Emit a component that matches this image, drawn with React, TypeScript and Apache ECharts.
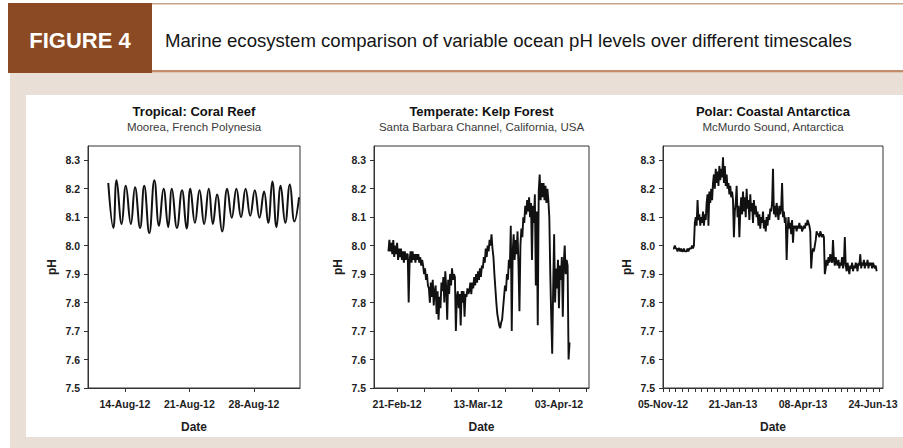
import React, { useEffect, useRef } from "react";
import * as echarts from "echarts";

// ---------- shared axis values ----------
const phTicks = [7.5, 7.6, 7.7, 7.8, 7.9, 8.0, 8.1, 8.2, 8.3];

// ---------- Panel 1: Tropical coral reef (x = day of August 2012) ----------
const coralDay = [
  12.2, 12.75, 13.1, 13.65, 14.1, 14.65, 15.1, 15.65, 16.1, 16.65, 17.2, 17.7,
  18.2, 18.7, 19.1, 19.65, 20.2, 20.7, 21.1, 21.6, 22.1, 22.6, 23.1, 23.55,
  24.0, 24.55, 25.1, 25.6, 26.1, 26.6, 27.1, 27.6, 28.1, 28.6, 29.1, 29.55,
  30.0, 30.45, 30.9, 31.4, 31.9, 32.4, 32.9,
];
const coralPH = [
  8.22, 8.062, 8.23, 8.076, 8.21, 8.076, 8.205, 8.062, 8.21, 8.044, 8.23, 8.07,
  8.2, 8.065, 8.2, 8.062, 8.195, 8.06, 8.2, 8.08, 8.195, 8.076, 8.2, 8.076,
  8.18, 8.05, 8.2, 8.098, 8.2, 8.1, 8.2, 8.105, 8.195, 8.098, 8.19, 8.08,
  8.225, 8.065, 8.21, 8.08, 8.215, 8.085, 8.17,
];
const coralLabelDays = [14, 21, 28];

// ---------- Panel 2: Temperate kelp forest (days since 15-Feb-2012, every 6 h) ----------
const kelpStart = 3.75;
const kelpStep = 0.25;
const kelpPH = [
  7.98, 8.02, 7.98, 8.01, 7.97, 8.02, 7.96, 8.0, 7.97, 8.01, 7.95, 7.99, 7.96, 7.99, 7.95, 7.98, 7.94, 7.98, 7.95, 7.97,
  7.97, 7.8,
  7.95, 7.98, 7.94, 7.98, 7.95, 7.97, 7.94, 7.97, 7.95, 7.97, 7.94, 7.96, 7.93, 7.95,
  7.93, 7.9, 7.92, 7.88, 7.9, 7.86,
  7.85, 7.8, 7.87, 7.82, 7.88, 7.79, 7.84, 7.86,
  7.76, 7.84, 7.74, 7.82, 7.78, 7.87,
  7.84, 7.89, 7.8, 7.91, 7.85, 7.74, 7.88, 7.83, 7.9, 7.86, 7.92, 7.88, 7.9, 7.89,
  7.7,
  7.82, 7.84, 7.78, 7.83, 7.72, 7.84, 7.8, 7.84, 7.75, 7.83, 7.82, 7.85, 7.83,
  7.84, 7.87, 7.83, 7.87, 7.85, 7.89, 7.86, 7.9, 7.87, 7.91, 7.88, 7.92, 7.89, 7.93,
  7.92, 7.96, 7.94, 7.99, 7.96, 8.0, 7.98, 8.02, 8.0, 8.04, 7.99,
  7.96, 7.9, 7.85, 7.8, 7.76, 7.74, 7.72, 7.71, 7.73,
  7.74, 7.78, 7.82, 7.86, 7.84, 7.9, 7.88, 7.95, 7.92,
  8.07, 7.7,
  7.98, 8.04, 7.95, 8.02, 7.97, 8.05, 7.93,
  7.77,
  8.0, 8.06, 8.03, 8.1, 8.08, 8.14, 8.11, 8.16, 8.12,
  8.17, 8.1, 8.15, 7.95, 8.14, 8.08, 8.18, 7.86, 8.12,
  7.72,
  8.19, 8.25, 8.16, 8.22, 8.17, 8.22, 8.16, 8.21, 8.15, 8.2, 8.16,
  8.1, 7.9, 7.75, 7.62,
  7.85, 8.04, 7.8,
  7.92, 7.85, 7.95, 7.78, 7.93, 7.88, 7.96, 7.75, 7.94, 8.0, 7.9, 7.95,
  7.93, 7.6, 7.66,
];
const kelpLabelDays = [6, 27, 48];

// ---------- Panel 3: Polar coastal Antarctica (days since 05-Nov-2012, daily) ----------
const polarStart = 11;
const polarStep = 1;
const polarPH = [
  7.99, 7.99, 8.0, 7.99, 7.99, 7.98, 7.99, 7.99, 7.98, 7.99, 7.98, 7.98, 7.99, 7.98, 7.98, 7.98, 7.99, 7.98, 7.99, 7.99, 7.99, 8.0, 7.99, 8.0,
  8.08, 8.1, 8.07, 8.16, 8.09, 8.11, 8.07, 8.1, 8.08, 8.12, 8.07, 8.11, 8.09,
  8.15, 8.18, 8.07, 8.19, 8.15, 8.2, 8.16, 8.22,
  8.25, 8.2, 8.27, 8.22, 8.26, 8.21, 8.28, 8.23, 8.27, 8.24, 8.31, 8.22, 8.28, 8.21, 8.25,
  8.2, 8.22, 8.18, 8.21, 8.17, 8.19, 8.16,
  8.03,
  8.12, 8.15, 8.21, 8.1, 8.14, 8.03, 8.12, 8.17, 8.11,
  8.19, 8.12, 8.17, 8.1, 8.2, 8.13, 8.16, 8.09, 8.18, 8.12, 8.15, 8.08, 8.16, 8.11, 8.14, 8.1,
  8.12, 8.07, 8.11, 8.06, 8.1, 8.08, 8.12, 8.06, 8.09, 8.05, 8.1, 8.07, 8.11, 8.09, 8.13,
  8.12, 8.15, 8.27, 8.11, 8.14, 8.1, 8.15, 8.12, 8.09, 8.14, 8.11, 8.13, 8.22,
  8.1, 8.12, 8.08, 8.1, 7.95, 8.05, 8.1, 8.06, 8.08, 8.04, 8.09, 8.01,
  8.07, 8.06, 8.07, 8.05, 8.07, 8.06, 8.08, 8.06, 8.07, 8.05, 8.06, 8.07, 8.06, 8.08, 8.07, 8.09, 8.08, 8.07, 8.05,
  7.92,
  7.97, 7.99, 7.98, 8.0, 8.02, 8.05, 8.04,
  8.04, 8.03, 8.05, 8.04, 8.03, 8.04, 8.03,
  7.9,
  7.92, 7.95, 7.93, 7.96, 7.94, 7.97, 7.95, 7.94, 8.02, 7.95, 7.93, 7.96, 7.94, 7.93, 7.95, 7.92, 7.94, 7.93, 7.96, 7.92, 7.94, 8.03,
  7.93, 7.91, 7.94, 7.92, 7.9, 7.93, 7.92, 7.94, 7.91, 7.93, 7.92, 7.94, 7.93, 7.91, 7.94, 7.93, 7.97, 7.92, 7.94, 7.93, 7.95, 7.92, 7.94, 7.93, 7.95, 7.92, 7.94, 7.93, 7.94, 7.92, 7.94, 7.93, 7.92, 7.93, 7.91,
];
const polarLabelDays = [0, 77, 154, 231];

const panelTitles = ["Tropical: Coral Reef", "Temperate: Kelp Forest", "Polar: Coastal Antarctica"];
const panelSubtitles = ["Moorea, French Polynesia", "Santa Barbara Channel, California, USA", "McMurdo Sound, Antarctica"];
const figureLabel = "FIGURE 4";
const figureTitle = "Marine ecosystem comparison of variable ocean pH levels over different timescales";

const MONTHS = ["Jan", "Feb", "Mar", "Apr", "May", "Jun", "Jul", "Aug", "Sep", "Oct", "Nov", "Dec"];
const DAY_MS = 86400000;
function fmtDate(base: number, v: number): string {
  const d = new Date(base + Math.round(v * DAY_MS));
  const dd = String(d.getUTCDate()).padStart(2, "0");
  const yy = String(d.getUTCFullYear() % 100).padStart(2, "0");
  return `${dd}-${MONTHS[d.getUTCMonth()]}-${yy}`;
}

const FONT = "'Liberation Sans', Arial, Helvetica, sans-serif";
const INK = "#1e1e1e";

export default function App() {
  const ref = useRef<HTMLDivElement>(null);
  useEffect(() => {
    if (!ref.current) return;
    const chart = echarts.init(ref.current, undefined, { renderer: "svg" });

    const grids = [
      { left: 88, top: 146, width: 212, height: 242 },
      { left: 374, top: 146, width: 215, height: 242 },
      { left: 663, top: 146, width: 220, height: 242 },
    ];
    const bases = [Date.UTC(2012, 6, 31), Date.UTC(2012, 1, 15), Date.UTC(2012, 10, 5)];
    const ranges: [number, number][] = [[10, 33], [0, 55.8], [0, 242]];
    const labelDays = [coralLabelDays, kelpLabelDays, polarLabelDays];
    const weekly = (a: number, b: number) => {
      const out: number[] = [];
      for (let t = a; t <= b; t += 7) out.push(t);
      return out;
    };
    const tickDays = [coralLabelDays, weekly(6, 55), weekly(0, 238)];

    const coralData = coralDay.map((d, i) => [d, coralPH[i]]);
    const kelpData = kelpPH.map((v, i) => [kelpStart + i * kelpStep, v]);
    const polarData = polarPH.map((v, i) => [polarStart + i * polarStep, v]);
    const datas = [coralData, kelpData, polarData];
    const widths = [2, 1.9, 1.9];

    const titleGraphics: any[] = [];
    grids.forEach((g, i) => {
      const cx = g.left + g.width / 2;
      titleGraphics.push({
        type: "text", x: cx, y: 111, z: 10,
        style: { text: panelTitles[i], fill: "#111", fontFamily: FONT, fontSize: 13, fontWeight: "bold", align: "center", verticalAlign: "middle" },
      });
      titleGraphics.push({
        type: "text", x: cx, y: 127, z: 10,
        style: { text: panelSubtitles[i], fill: "#3a3a3a", fontFamily: FONT, fontSize: 11.5, align: "center", verticalAlign: "middle" },
      });
    });

    chart.setOption({
      animation: false,
      backgroundColor: "#ffffff",
      textStyle: { fontFamily: FONT },
      grid: grids.map((g) => ({ ...g, show: true, borderColor: "#333", borderWidth: 1, backgroundColor: "transparent", z: 5 })),
      xAxis: grids.map((_, i) => ({
        type: "value",
        gridIndex: i,
        min: ranges[i][0],
        max: ranges[i][1],
        z: 6,
        splitLine: { show: false },
        axisLine: { show: true, onZero: false, lineStyle: { color: "#333", width: 1 } },
        axisTick: { show: true, length: 4, customValues: tickDays[i], lineStyle: { color: "#333" } },
        axisLabel: {
          customValues: labelDays[i],
          formatter: (v: number) => fmtDate(bases[i], v),
          fontSize: 10.5, fontWeight: "bold", color: INK, margin: 10, fontFamily: FONT,
        },
        name: "Date",
        nameLocation: "middle",
        nameGap: 33,
        nameTextStyle: { fontSize: 12, fontWeight: "bold", color: INK, fontFamily: FONT },
      })),
      yAxis: grids.map((_, i) => ({
        type: "value",
        gridIndex: i,
        min: 7.5,
        max: 8.35,
        z: 6,
        splitLine: { show: false },
        axisLine: { show: true, onZero: false, lineStyle: { color: "#333", width: 1 } },
        axisTick: { show: true, length: 4, customValues: phTicks, lineStyle: { color: "#333" } },
        axisLabel: {
          customValues: phTicks,
          formatter: (v: number) => v.toFixed(1),
          fontSize: 10.5, fontWeight: "bold", color: INK, margin: 8, fontFamily: FONT,
        },
        name: "pH",
        nameLocation: "middle",
        nameGap: 30,
        nameRotate: 90,
        nameTextStyle: { fontSize: 12, fontWeight: "bold", color: INK, fontFamily: FONT },
      })),
      series: datas.map((d, i) => ({
        type: "line",
        xAxisIndex: i,
        yAxisIndex: i,
        data: d,
        showSymbol: false,
        smooth: i === 0 ? 0.45 : false,
        z: 7,
        lineStyle: { color: "#111", width: widths[i] },
      })),
      graphic: [
        { type: "rect", z: -20, silent: true, shape: { x: 10, y: 73, width: 893, height: 375 }, style: { fill: "#e9dfd6" } },
        { type: "rect", z: -19, silent: true, shape: { x: 26, y: 95, width: 877, height: 342 }, style: { fill: "#ffffff" } },
        { type: "rect", z: -18, silent: true, shape: { x: 8, y: 3, width: 895, height: 1.5 }, style: { fill: "#c9a38a" } },
        { type: "rect", z: -18, silent: true, shape: { x: 8, y: 70, width: 895, height: 2.5 }, style: { fill: "#c38c6a" } },
        { type: "rect", z: -17, silent: true, shape: { x: 8, y: 3, width: 144, height: 70 }, style: { fill: "#8b4a24" } },
        {
          type: "text", x: 80, y: 40, z: 10,
          style: { text: figureLabel, fill: "#ffffff", fontFamily: FONT, fontSize: 22, fontWeight: "bold", align: "center", verticalAlign: "middle" },
        },
        {
          type: "text", x: 165, y: 40, z: 10,
          style: { text: figureTitle, fill: "#151515", fontFamily: FONT, fontSize: 18.6, align: "left", verticalAlign: "middle" },
        },
        ...titleGraphics,
      ],
    });
    return () => chart.dispose();
  }, []);
  return <div ref={ref} style={{ position: "fixed", left: 0, top: 0, width: 903, height: 448 }} />;
}
